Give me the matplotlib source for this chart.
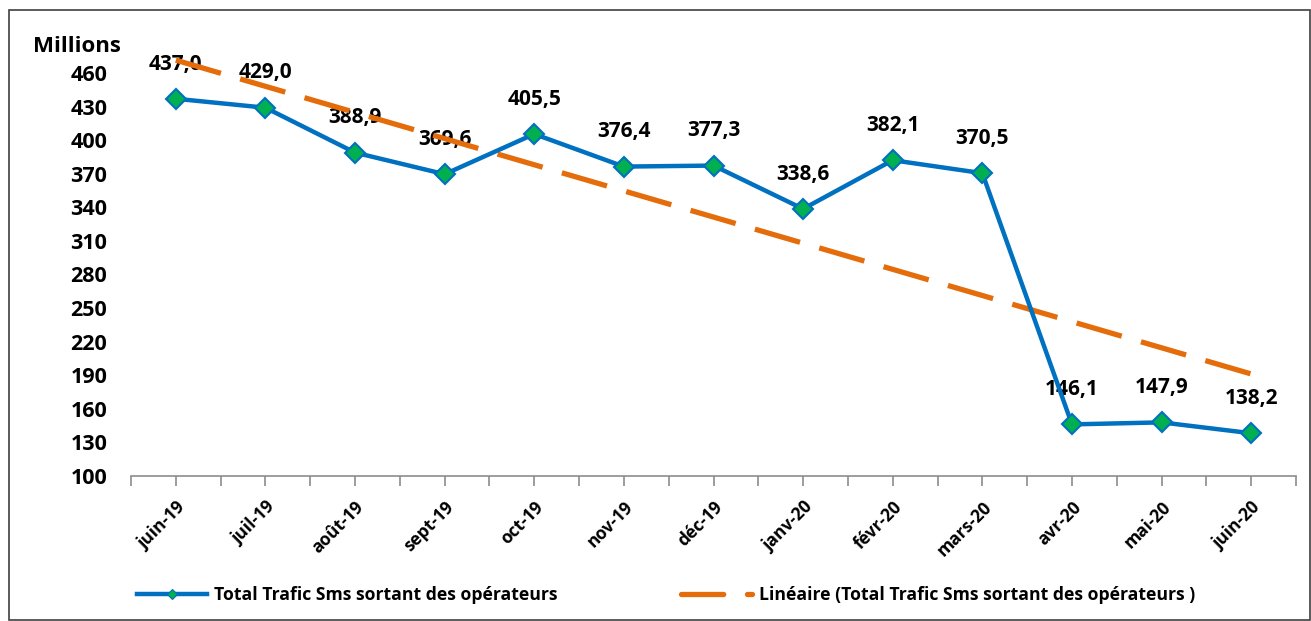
import matplotlib
matplotlib.use("Agg")
import matplotlib.pyplot as plt
import numpy as np
from matplotlib.lines import Line2D
from matplotlib.patches import Rectangle

months = ["juin-19", "juil-19", "août-19", "sept-19", "oct-19", "nov-19", "déc-19",
          "janv-20", "févr-20", "mars-20", "avr-20", "mai-20", "juin-20"]
values = [437.0, 429.0, 388.9, 369.6, 405.5, 376.4, 377.3, 338.6, 382.1, 370.5,
          146.1, 147.9, 138.2]
yticks = [100, 130, 160, 190, 220, 250, 280, 310, 340, 370, 400, 430, 460]

plt.rcParams['font.family'] = ['Open Sans', 'DejaVu Sans']
plt.rcParams['font.weight'] = 'bold'

BLUE = '#0070C0'
ORANGE = '#E46C0A'
GREEN = '#00B050'

fig = plt.figure(figsize=(13.11, 6.21), dpi=100)
W, H = 1311, 621
ax = fig.add_axes([131 / W, 1 - 476 / H, (1296 - 131) / W, (476 - 73) / H])

x = np.arange(len(months))
y = np.array(values)
slope, intercept = np.polyfit(x, y, 1)
trend = slope * x + intercept

ax.plot(x, trend, color=ORANGE, lw=3.8, dashes=(8.9, 3.8), solid_capstyle='butt',
        dash_capstyle='butt', zorder=2, clip_on=False)
ax.plot(x, y, color=BLUE, lw=3.2, marker='D', markersize=10, markerfacecolor=GREEN,
        markeredgecolor=BLUE, markeredgewidth=1.5, zorder=3, clip_on=False)

for xi, v in zip(x, values):
    ax.annotate(f"{v:.1f}".replace('.', ','), (xi, v), xytext=(0, 25),
                textcoords='offset points', ha='center', va='center',
                fontsize=15, fontweight='bold', color='black', zorder=1.5)

ax.set_xlim(-0.5, len(months) - 0.5)
ax.set_ylim(100, 460)
ax.set_yticks(yticks)
ax.set_yticklabels([str(t) for t in yticks], fontsize=15.5, fontweight='bold')
ax.tick_params(axis='y', length=0, pad=17)

ax.set_xticks(x)
ax.set_xticklabels(months, rotation=45, ha='right', va='top', rotation_mode='anchor',
                   fontsize=12.5, fontweight='bold')
ax.set_xticks(np.arange(-0.5, len(months), 1), minor=True)
ax.tick_params(axis='x', which='both', length=7, color='#8C8C8C', width=1.2, direction='out')
ax.tick_params(axis='x', which='major', pad=9)

for s in ['top', 'right', 'left']:
    ax.spines[s].set_visible(False)
ax.spines['bottom'].set_color('#8C8C8C')
ax.spines['bottom'].set_linewidth(1.2)

fig.text(33 / W, 1 - 47 / H, "Millions", fontsize=16, fontweight='bold', ha='left', va='center')

h1 = Line2D([], [], color=BLUE, lw=3.2, marker='D', markersize=5, markerfacecolor=GREEN,
            markeredgecolor=BLUE, markeredgewidth=0.8)
h2 = Line2D([], [], color=ORANGE, lw=3.8, dashes=(8, 4.5), dash_capstyle='round')
fig.legend([h1, h2], ["Total Trafic Sms sortant des opérateurs",
                      "Linéaire (Total Trafic Sms sortant des opérateurs )"],
           loc='center left', bbox_to_anchor=(121 / W, 1 - 595 / H), ncol=2,
           frameon=False, prop={'size': 12.7, 'weight': 'bold'}, handlelength=4.0,
           columnspacing=7.0, handletextpad=0.4)

fig.patches.append(Rectangle((9 / W, 1 / H), (W - 10) / W, (H - 11) / H,
                             transform=fig.transFigure, fill=False,
                             edgecolor='#404040', lw=1.2))

fig.savefig("out.png", dpi=100)
